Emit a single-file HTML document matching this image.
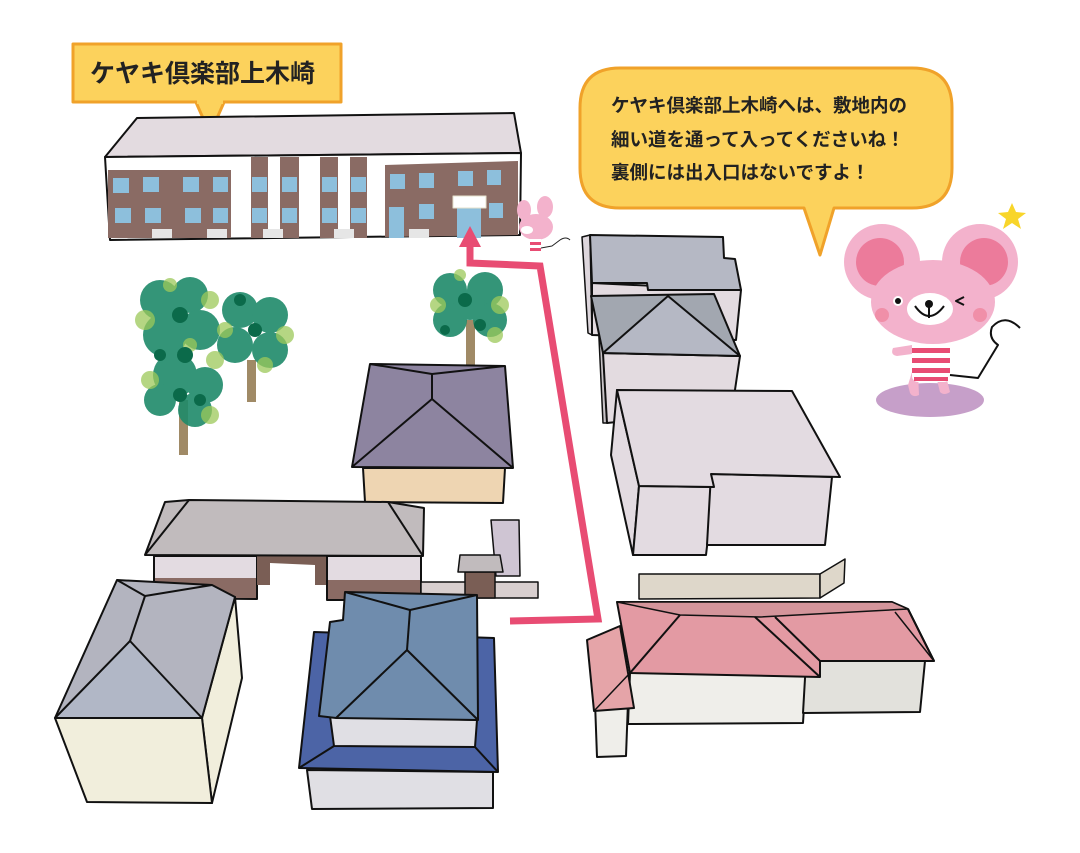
<!DOCTYPE html>
<html><head><meta charset="utf-8"><style>
html,body{margin:0;padding:0;background:#fff;}
svg{display:block}
text{font-family:"Liberation Sans","Noto Sans CJK JP",sans-serif;}
</style></head><body>
<svg width="1080" height="853" viewBox="0 0 1080 853" xmlns="http://www.w3.org/2000/svg" stroke-linejoin="round">
<!-- Title box -->
<polygon points="195,100 210,134 225,100" fill="#fcd25c" stroke="#f0a22a" stroke-width="3"/>
<rect x="73" y="44" width="268" height="58" fill="#fcd25c" stroke="#f0a22a" stroke-width="3"/>
<rect x="197" y="96" width="26" height="8" fill="#fcd25c"/>
<text x="90" y="82" font-size="25" font-weight="bold" fill="#222">ケヤキ倶楽部上木崎</text>

<!-- Main building -->
<polygon points="105,157 137,118 514,113 521,153" fill="#e3dbe0" stroke="#111" stroke-width="2"/>
<polygon points="105,157 521,153 520,235 110,240" fill="#fff" stroke="#111" stroke-width="2"/>
<rect x="108" y="170" width="123" height="68" fill="#8a6b64"/>
<rect x="251" y="157" width="17" height="81" fill="#8a6b64"/>
<rect x="280" y="157" width="19" height="81" fill="#8a6b64"/>
<rect x="320" y="157" width="18" height="81" fill="#8a6b64"/>
<rect x="350" y="157" width="17" height="81" fill="#8a6b64"/>
<polygon points="385,165 518,161 518,235 385,237" fill="#8a6b64"/>
<g fill="#8dbfdc">
<rect x="113" y="178" width="16" height="15"/><rect x="143" y="177" width="16" height="15"/><rect x="183" y="177" width="16" height="15"/><rect x="213" y="177" width="15" height="15"/>
<rect x="115" y="208" width="16" height="15"/><rect x="145" y="208" width="16" height="15"/><rect x="185" y="208" width="16" height="15"/><rect x="213" y="208" width="15" height="15"/>
<rect x="252" y="177" width="15" height="15"/><rect x="282" y="177" width="15" height="15"/><rect x="322" y="177" width="15" height="15"/><rect x="351" y="177" width="15" height="15"/>
<rect x="252" y="208" width="15" height="15"/><rect x="282" y="208" width="15" height="15"/><rect x="322" y="208" width="15" height="15"/><rect x="351" y="208" width="15" height="15"/>
<rect x="390" y="174" width="15" height="15"/><rect x="419" y="173" width="15" height="15"/><rect x="458" y="171" width="15" height="15"/><rect x="487" y="170" width="14" height="15"/>
<rect x="389" y="207" width="15" height="31"/><rect x="419" y="204" width="15" height="15"/><rect x="457" y="207" width="24" height="31"/><rect x="489" y="203" width="14" height="15"/>
</g>
<rect x="453" y="196" width="33" height="12" fill="#fff" stroke="#e5e0cc"/>
<g fill="#e6e6e6"><rect x="152" y="229" width="20" height="9"/><rect x="207" y="229" width="20" height="9"/><rect x="263" y="229" width="20" height="9"/><rect x="334" y="229" width="20" height="9"/><rect x="409" y="229" width="20" height="9"/></g>

<!-- Right bubble -->
<path d="M620,68 H912 Q952,68 952,108 V168 Q952,208 912,208 H834 L820,255 L804,208 H620 Q580,208 580,168 V108 Q580,68 620,68 Z" fill="#fcd25c" stroke="#f0a22a" stroke-width="3"/>
<g font-size="18.5" font-weight="bold" fill="#222">
<text x="611" y="112">ケヤキ倶楽部上木崎へは、敷地内の</text>
<text x="611" y="146">細い道を通って入ってくださいね！</text>
<text x="611" y="179">裏側には出入口はないですよ！</text>
</g>

<!-- Trees -->
<g>
<rect x="179" y="400" width="9" height="55" fill="#a08a66"/>
<rect x="247" y="360" width="9" height="42" fill="#a08a66"/>
<rect x="466" y="320" width="9" height="45" fill="#a08a66"/>
<g fill="#1f8a6a" opacity="0.9">
<circle cx="160" cy="300" r="20"/><circle cx="190" cy="295" r="18"/><circle cx="165" cy="335" r="22"/><circle cx="200" cy="330" r="20"/>
<circle cx="175" cy="375" r="22"/><circle cx="205" cy="385" r="18"/><circle cx="160" cy="400" r="16"/><circle cx="195" cy="410" r="17"/>
<circle cx="240" cy="310" r="18"/><circle cx="270" cy="315" r="18"/><circle cx="235" cy="345" r="18"/><circle cx="270" cy="350" r="18"/>
<circle cx="450" cy="290" r="17"/><circle cx="485" cy="290" r="18"/><circle cx="450" cy="320" r="17"/><circle cx="490" cy="320" r="17"/><circle cx="470" cy="305" r="15"/>
</g>
<g fill="#9dc95a" opacity="0.75">
<circle cx="145" cy="320" r="10"/><circle cx="210" cy="300" r="9"/><circle cx="150" cy="380" r="9"/><circle cx="215" cy="360" r="9"/><circle cx="210" cy="415" r="9"/>
<circle cx="225" cy="330" r="8"/><circle cx="285" cy="335" r="9"/><circle cx="265" cy="365" r="8"/>
<circle cx="438" cy="305" r="8"/><circle cx="500" cy="305" r="9"/><circle cx="495" cy="335" r="8"/>
<circle cx="170" cy="285" r="7"/><circle cx="190" cy="345" r="7"/><circle cx="460" cy="275" r="6"/>
</g>
<g fill="#0b6a4a"><circle cx="180" cy="315" r="8"/><circle cx="185" cy="355" r="8"/><circle cx="255" cy="330" r="7"/><circle cx="465" cy="300" r="7"/><circle cx="180" cy="395" r="7"/>
<circle cx="160" cy="355" r="6"/><circle cx="200" cy="400" r="6"/><circle cx="240" cy="300" r="6"/><circle cx="480" cy="325" r="6"/><circle cx="445" cy="330" r="5"/></g>
</g>

<!-- Purple house -->
<polygon points="352,467 370,364 505,366 513,468" fill="#8d84a0" stroke="#111" stroke-width="2"/>
<polyline points="370,364 432,374 505,366" fill="none" stroke="#111" stroke-width="2"/>
<polyline points="432,374 432,399" fill="none" stroke="#111" stroke-width="2"/>
<polyline points="352,467 432,399 513,468" fill="none" stroke="#111" stroke-width="2"/>
<polygon points="363,468 505,468 503,503 365,502" fill="#eed5b2" stroke="#111" stroke-width="2"/>

<!-- Long gray building -->
<polygon points="154,556 257,556 257,599 154,598" fill="#e3dbe1" stroke="#111" stroke-width="2"/>
<rect x="155" y="578" width="101" height="20" fill="#8a6b64"/>
<polygon points="257,556 327,556 327,585 315,585 315,565 270,563 270,585 257,585" fill="#7a5e55"/>
<polygon points="327,556 421,556 421,600 327,600" fill="#e3dbe1" stroke="#111" stroke-width="2"/>
<rect x="328" y="580" width="92" height="19" fill="#8a6b64"/>
<polygon points="145,555 165,502 189,500 388,502 424,508 423,556" fill="#c1bbbd" stroke="#111" stroke-width="2"/>
<line x1="189" y1="500" x2="145" y2="555" stroke="#111" stroke-width="2"/>
<line x1="388" y1="502" x2="423" y2="556" stroke="#111" stroke-width="2"/>

<!-- small items -->
<polygon points="421,582 538,582 538,598 421,598" fill="#d8cfcf" stroke="#111" stroke-width="1.5"/>
<polygon points="491,520 519,520 520,576 496,576" fill="#cfc5d3" stroke="#111" stroke-width="1.5"/>
<rect x="465" y="572" width="30" height="26" fill="#7a5e55" stroke="#111" stroke-width="1.5"/>
<polygon points="458,572 460,555 500,555 503,572" fill="#c1bbbd" stroke="#111" stroke-width="1.5"/>

<!-- Left building -->
<polygon points="202,718 235,597 242,678 212,803" fill="#f1eedc" stroke="#111" stroke-width="2"/>
<polygon points="55,718 202,718 212,803 87,802" fill="#f1eedc" stroke="#111" stroke-width="2"/>
<polygon points="55,718 117,580 212,585 235,597 202,718" fill="#b3b4bf" stroke="#111" stroke-width="2"/>
<polyline points="117,580 145,596 212,585" fill="none" stroke="#111" stroke-width="2"/>
<polyline points="145,596 130,641" fill="none" stroke="#111" stroke-width="2"/>
<polygon points="130,641 55,718 202,718" fill="#b1b7c6" stroke="#111" stroke-width="2"/>

<!-- Blue building -->
<polygon points="307,770 493,772 493,808 312,809" fill="#e0dfe4" stroke="#111" stroke-width="2"/>
<polygon points="299,768 314,632 494,638 498,772" fill="#4c64a6" stroke="#111" stroke-width="2"/>
<polygon points="330,716 477,720 475,747 334,746" fill="#e0dfe4" stroke="#111" stroke-width="2"/>
<polygon points="319,716 330,622 343,620 345,592 477,595 478,720 336,718" fill="#6f8cad" stroke="#111" stroke-width="2"/>
<polyline points="345,592 410,610 477,595" fill="none" stroke="#111" stroke-width="2"/>
<polyline points="410,610 407,650" fill="none" stroke="#111" stroke-width="2"/>
<polyline points="336,718 407,650 478,720" fill="none" stroke="#111" stroke-width="2"/>
<line x1="299" y1="768" x2="334" y2="746" stroke="#111" stroke-width="2"/>
<line x1="498" y1="772" x2="475" y2="747" stroke="#111" stroke-width="2"/>

<!-- Right top buildings -->
<polygon points="582,237 590,235 592,335 588,333" fill="#ddd6dc" stroke="#111" stroke-width="1.5"/>
<polygon points="592,283 741,290 736,340 592,335" fill="#e3dbe0" stroke="#111" stroke-width="2"/>
<polygon points="590,235 723,237 724,258 735,259 741,290 648,290 647,283 592,283" fill="#b5b8c4" stroke="#111" stroke-width="2"/>
<polygon points="597,296 603,353 607,423 603,423" fill="#c8c3c7" stroke="#111" stroke-width="1.5"/>
<polygon points="603,353 740,356 732,410 607,423" fill="#e3dbe0" stroke="#111" stroke-width="2"/>
<polygon points="591,296 714,294 740,356 603,353" fill="#a2a7b0" stroke="#111" stroke-width="2"/>
<polygon points="668,296 603,353 740,356" fill="#b5b8c4" stroke="#111" stroke-width="2"/>

<!-- Big pink-grey building -->
<polygon points="617,390 611,455 633,555 639,486" fill="#e3dbe1" stroke="#111" stroke-width="2"/>
<polygon points="639,486 714,487 706,555 633,555" fill="#e3dbe1" stroke="#111" stroke-width="2"/>
<polygon points="711,474 832,477 825,545 707,545" fill="#e3dbe1" stroke="#111" stroke-width="2"/>
<polygon points="617,390 792,391 840,477 711,474 714,487 639,486" fill="#e3dbe1" stroke="#111" stroke-width="2"/>

<!-- strip -->
<polygon points="639,574 820,574 820,598 639,599" fill="#ded7ca" stroke="#111" stroke-width="1.5"/>
<polygon points="820,574 845,559 844,583 820,598" fill="#ded7ca" stroke="#111" stroke-width="1.5"/>

<!-- Pink roof building -->
<polygon points="595,702 628,702 626,756 597,757" fill="#efeeea" stroke="#111" stroke-width="2"/>
<polygon points="630,673 806,673 803,723 628,724" fill="#efeeea" stroke="#111" stroke-width="2"/>
<polygon points="806,661 925,661 920,712 803,713" fill="#e2e1dc" stroke="#111" stroke-width="2"/>
<polygon points="587,640 620,626 634,708 594,711" fill="#e5a4a8" stroke="#111" stroke-width="2"/>
<polygon points="617,602 892,602 908,609 934,661 820,661 820,677 630,673" fill="#e39aa3" stroke="#111" stroke-width="2"/>
<polygon points="617,602 892,602 908,609 760,617 680,615" fill="#d4959b" stroke="#111" stroke-width="1.5"/>
<polyline points="680,615 630,673" fill="none" stroke="#111" stroke-width="2"/>
<polyline points="755,617 820,677" fill="none" stroke="#111" stroke-width="2"/>
<polyline points="775,617 820,661" fill="none" stroke="#111" stroke-width="2"/>
<polyline points="908,609 934,661" fill="none" stroke="#111" stroke-width="2"/>
<polyline points="895,612 934,661" fill="none" stroke="#111" stroke-width="1.5"/>
<polyline points="594,711 630,673" fill="none" stroke="#111" stroke-width="1.5"/>

<!-- Red route -->
<polyline points="510,621 598,619 540,266 470,263 470,245" fill="none" stroke="#e84c73" stroke-width="7" stroke-linejoin="miter"/>
<polygon points="459,247 470,226 481,247" fill="#e84c73"/>

<!-- small mouse -->
<g>
<ellipse cx="524" cy="210" rx="7" ry="10" fill="#f3b2cc"/>
<ellipse cx="545" cy="207" rx="8" ry="11" fill="#f3b2cc"/>
<ellipse cx="536" cy="227" rx="17" ry="13" fill="#f3b2cc"/>
<ellipse cx="527" cy="230" rx="6" ry="4" fill="#fff"/>
<rect x="530" y="239" width="11" height="14" fill="#fff"/>
<rect x="530" y="242" width="11" height="3" fill="#e84c73"/><rect x="530" y="248" width="11" height="3" fill="#e84c73"/>
<path d="M541,248 L552,246 L560,240 Q566,236 570,240" fill="none" stroke="#222" stroke-width="1"/>
</g>

<!-- big mouse -->
<g>
<ellipse cx="930" cy="400" rx="54" ry="17" fill="#c69fc9"/>
<circle cx="882" cy="262" r="38" fill="#f3b2cc"/>
<circle cx="880" cy="262" r="24" fill="#ec7b9b"/>
<circle cx="980" cy="262" r="38" fill="#f3b2cc"/>
<circle cx="984" cy="262" r="24" fill="#ec7b9b"/>
<path d="M908,385 L912,372 L918,372 L919,395 Q913,398 910,393Z" fill="#f3b2cc"/>
<path d="M935,372 L945,372 L950,392 Q944,396 940,392Z" fill="#f3b2cc"/>
<rect x="912" y="342" width="38" height="40" rx="6" fill="#fff"/>
<g fill="#e84c73"><rect x="912" y="348" width="38" height="5"/><rect x="912" y="358" width="38" height="5"/><rect x="912" y="368" width="38" height="5"/><rect x="914" y="377" width="34" height="4"/></g>
<path d="M912,345 L893,348 Q890,355 897,356 L912,354Z" fill="#f3b2cc"/>
<ellipse cx="933" cy="302" rx="62" ry="42" fill="#f3b2cc"/>
<ellipse cx="930" cy="309" rx="23" ry="16" fill="#fff"/>
<circle cx="929" cy="304" r="4" fill="#111"/>
<path d="M915,306 Q929,326 944,306" fill="none" stroke="#111" stroke-width="2"/>
<line x1="929" y1="304" x2="929" y2="318" stroke="#111" stroke-width="2"/>
<circle cx="898" cy="301" r="5" fill="#fff"/><circle cx="898" cy="301" r="3" fill="#111"/>
<path d="M964,297 L956,301 L964,305" fill="none" stroke="#111" stroke-width="2"/>
<circle cx="882" cy="315" r="7" fill="#f08fa8"/>
<circle cx="980" cy="315" r="7" fill="#f08fa8"/>
<path d="M950,375 L978,378 L998,345 Q988,338 992,327 Q1005,313 1020,328" fill="none" stroke="#111" stroke-width="2"/>
<polygon points="1012,203 1016,212 1026,213 1018,219 1021,229 1012,223 1003,229 1006,219 998,213 1008,212" fill="#f8d52a"/>
</g>
</svg>
</body></html>
